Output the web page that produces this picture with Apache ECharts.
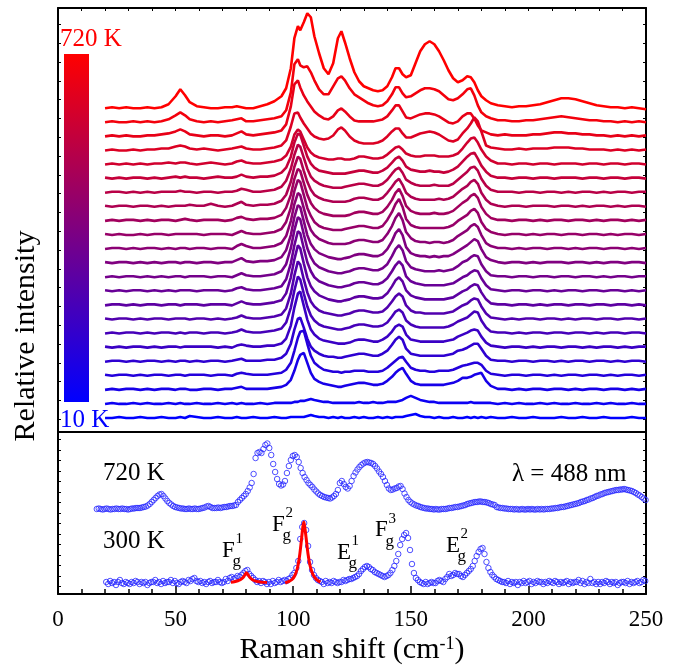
<!DOCTYPE html>
<html>
<head>
<meta charset="utf-8">
<script src="https://cdn.jsdelivr.net/npm/echarts@6/dist/echarts.min.js"></script>
<style>
  html, body { margin: 0; padding: 0; background: #fff; }
  #main { width: 684px; height: 671px; }
</style>
</head>
<body>
<div id="main"></div>
<script>
// Raman shift sampling (cm^-1) shared by the temperature stack
const shift = [20,23,26,29,32,35,38,41,44,47,50, 52,54,56, 59,62,65,68,71,74, 76,78,80, 83,86,89,92,95, 97,99,
  100.5,102,103,104.5,106,107.5,109, 111,113,115,117,119, 120.5,122, 124,126,128,130,132,134,136,138,140,142,
  143.5,145,146.5, 148,150,152,154,156,158,160,162,164,166,168,170,172, 174,175.5,177,178.5,180, 182,184,
  187,190,193,196,199,202,205,208,211,214,217,220,223,226,229,232,235,238,241,244,247,250];

// Intensities above each trace's own baseline (a.u.), 10 K (spec0) up to 720 K (spec22)
const spec0 = [0,0,1,0,0,1,0,0,1,0,0, 1,0,2, 1,0,0,1,0,0, 1,0,0, 1,0,0,1,0, 0,1, 1,1,1,1,2,3,2, 1,1,0,1,0, 1,0, 0,1,0,1,0,0,1,0,1,0, 1,1,1, 2,3,4,2,1,1,0,1,0,0,1,0,0, 1,0,1,0,1, 0,1, 0,0,1,0,0,1,0,0,0,1,0,0,1,0,0,1,0,0,0,1,0,0];
const spec1 = [0,1,0,0,1,0,1,0,0,1,0, 1,0,0, 1,0,0,1,0,1, 0,1,0, 0,1,0,1,1, 1,1, 2,2,3,3,4,5,4, 3,2,2,1,1, 1,1, 1,1,2,1,1,2,1,1,2,2, 2,3,4, 6,8,6,4,3,2,2,1,1,1,1,1,1, 1,2,1,1,1, 1,1, 0,1,0,1,0,0,1,0,1,0,0,1,0,0,1,0,1,0,0,1,0,0];
const spec2 = [0,1,0,1,1,0,1,0,1,1,0, 1,1,0, 0,1,1,0,1,1, 2,3,1, 1,1,1,2,3, 5,10, 19,30,35,37,27,17,11, 8,6,5,4,3, 3,4, 5,6,7,7,6,5,5,6,9,13, 17,20,22, 16,9,6,5,5,5,5,5,5,6,7,9,12, 12,13,15,16,17, 9,4, 1,1,0,1,0,1,1,0,1,1,0,1,0,1,1,0,1,1,0,1,0,1];
const spec3 = [1,0,1,1,0,1,0,1,1,0,1, 1,0,1, 1,1,0,1,1,0, 2,3,2, 1,1,1,2,3, 6,13, 25,38,44,45,32,20,13, 9,6,5,4,4, 3,4, 4,5,5,5,4,4,4,5,8,12, 15,18,19, 14,8,6,5,5,4,4,5,5,5,6,8,10, 11,12,13,13,11, 5,2, 1,0,1,1,0,1,1,0,1,0,1,1,0,1,1,0,1,0,1,1,0,1];
const spec4 = [0,1,1,0,1,0,1,1,0,1,0, 1,1,0, 1,0,1,1,0,1, 2,3,1, 1,1,2,2,4, 8,18, 32,43,44,34,23,15,11, 8,6,5,5,4, 4,5, 6,7,8,8,7,6,6,8,11,17, 22,25,22, 13,8,7,6,6,6,6,6,6,7,8,11,12, 14,16,18,18,13, 6,2, 1,1,0,1,1,0,1,1,0,1,0,1,1,0,1,1,0,1,0,1,1,0];
const spec5 = [1,0,1,0,1,1,0,1,0,1,1, 0,1,1, 1,1,1,0,1,0, 2,3,2, 1,1,2,2,4, 9,22, 40,54,56,42,28,18,13, 9,7,6,5,4, 4,4, 5,7,8,8,7,6,6,8,11,16, 21,23,21, 13,8,7,6,6,6,6,6,6,7,8,11,13, 15,17,18,17,11, 5,2, 1,0,1,1,0,1,0,1,1,0,1,1,0,1,0,1,1,0,1,0,1,1];
const spec6 = [0,1,0,1,1,0,1,0,1,1,0, 1,0,1, 1,0,1,1,0,1, 2,4,2, 1,1,2,3,5, 11,26, 43,57,54,40,27,18,13, 9,7,6,5,4, 4,5, 6,8,9,9,8,7,7,8,11,17, 22,24,21, 13,9,7,6,6,6,6,6,6,7,9,12,14, 16,19,22,21,13, 6,2, 1,1,0,1,0,1,1,0,1,1,0,1,1,0,1,0,1,1,0,1,1,0];
const spec7 = [1,0,1,1,0,1,0,1,1,0,1, 1,1,0, 1,1,0,1,0,1, 2,4,2, 1,1,2,3,5, 11,26, 44,58,55,40,27,18,13, 9,7,6,5,4, 4,5, 6,8,9,9,8,7,7,8,12,18, 23,26,23, 14,9,7,7,6,6,6,6,6,7,8,11,14, 16,19,21,20,13, 6,2, 1,0,1,0,1,1,0,1,1,0,1,0,1,1,0,1,1,0,1,1,0,1];
const spec8 = [0,1,1,0,1,0,1,1,0,1,1, 0,1,1, 1,0,1,1,1,0, 2,4,2, 1,1,2,3,5, 12,28, 46,60,57,42,28,19,14, 10,8,6,5,4, 4,5, 6,8,9,9,8,7,7,8,12,19, 25,28,24, 15,10,8,7,6,6,6,6,6,7,8,11,14, 16,19,21,20,13, 6,2, 1,1,0,1,1,0,1,0,1,1,0,1,1,0,1,1,0,1,1,0,1,0];
const spec9 = [1,0,1,0,1,1,0,1,0,1,0, 1,1,1, 0,1,1,1,0,1, 3,4,2, 1,1,2,3,5, 12,28, 46,60,58,43,29,20,14, 10,8,6,5,4, 4,5, 6,8,9,9,8,7,7,9,13,20, 26,30,26, 15,10,8,7,6,6,6,6,6,7,8,11,14, 16,19,21,20,13, 6,2, 1,0,1,1,0,1,1,0,1,0,1,1,0,1,1,0,1,1,0,1,0,1];
const spec10 = [0,1,0,1,1,0,1,0,1,0,1, 1,0,1, 1,1,0,1,1,0, 2,4,2, 1,1,2,3,6, 13,29, 47,60,58,43,29,20,14, 10,8,6,5,4, 4,5, 6,8,9,9,8,7,7,9,13,21, 28,32,27, 16,10,8,7,6,6,6,7,6,7,8,11,15, 17,20,22,21,13, 6,2, 1,1,0,1,1,0,1,1,0,1,1,0,1,1,0,1,0,1,1,0,1,1];
const spec11 = [1,0,1,1,0,1,0,1,0,1,1, 0,1,1, 0,1,1,0,1,1, 3,5,2, 1,2,2,3,6, 13,28, 46,58,56,42,28,19,14, 10,8,6,5,4, 4,5, 6,8,9,9,8,7,7,9,14,22, 30,34,28, 16,10,8,7,7,6,7,6,7,7,9,12,15, 18,21,24,22,14, 6,3, 1,0,1,1,0,1,0,1,1,1,0,1,1,0,1,0,1,1,0,1,1,0];
const spec12 = [0,1,1,0,1,0,1,1,0,1,0, 1,1,0, 1,1,0,1,1,0, 3,5,3, 1,1,2,3,6, 13,28, 45,56,54,41,28,19,14, 10,8,6,5,5, 5,5, 6,8,9,9,8,7,7,9,15,23, 31,36,29, 17,11,8,7,7,6,7,7,6,7,9,13,16, 19,23,25,22,14, 6,3, 1,1,0,1,0,1,1,0,1,1,0,1,0,1,1,0,1,1,0,1,0,1];
const spec13 = [1,0,1,0,0,1,0,1,1,0,1, 1,1,1, 1,0,1,1,1,0, 2,4,2, 1,1,2,3,6, 13,27, 44,55,53,40,27,19,13, 9,7,6,5,5, 5,6, 7,8,9,9,8,7,7,9,15,23, 31,36,28, 16,10,8,7,7,7,7,7,7,8,10,14,17, 20,24,26,22,13, 6,3, 1,0,1,1,0,1,0,1,1,0,1,1,0,1,1,0,1,0,1,1,0,1];
const spec14 = [0,1,0,1,1,0,1,0,1,1,0, 1,2,1, 0,1,1,1,0,1, 3,4,2, 1,2,2,3,6, 13,26, 42,52,50,38,26,18,13, 9,7,6,5,5, 5,5, 6,8,9,9,8,7,7,9,14,21, 28,32,25, 15,10,8,7,7,7,8,7,7,8,10,14,18, 21,25,27,23,14, 7,3, 1,1,0,1,1,0,1,0,1,1,0,1,1,0,1,0,1,1,0,1,0,1];
const spec15 = [1,0,1,1,0,1,1,0,1,0,1, 1,1,2, 1,1,3,1,0,1, 3,5,2, 1,2,2,3,6, 12,25, 40,50,48,36,25,17,12, 9,7,6,5,5, 5,5, 6,8,9,9,8,7,7,9,14,20, 25,28,22, 14,10,8,7,7,7,7,8,7,8,10,14,18, 21,25,27,23,14, 7,3, 1,0,1,1,0,1,1,1,0,1,1,0,1,0,1,1,0,1,0,1,1,0];
const spec16 = [0,1,1,0,1,0,1,0,1,1,1, 2,1,1, 0,1,1,0,1,1, 2,4,3, 1,1,2,3,6, 12,24, 38,48,46,35,24,16,12, 9,7,6,5,5, 5,6, 7,8,9,9,8,7,7,9,13,19, 23,25,20, 13,10,8,7,7,7,8,7,7,7,9,13,17, 21,25,26,22,14, 7,3, 1,1,1,0,1,1,0,1,1,0,1,0,1,1,0,1,0,1,1,0,1,1];
const spec17 = [1,0,1,0,1,1,0,1,0,1,2, 1,2,1, 1,0,1,2,1,1, 2,4,2, 1,2,2,3,6, 11,22, 36,45,44,33,22,15,11, 8,7,6,5,5, 5,5, 6,7,8,8,7,6,6,8,11,16, 20,22,18, 12,9,8,7,7,8,7,7,6,7,9,12,17, 22,25,26,20,13, 7,3, 1,1,0,1,1,0,1,1,0,1,1,1,0,1,1,0,1,1,0,1,1,0];
const spec18 = [0,1,0,1,0,1,0,1,1,2,1, 2,2,1, 0,1,2,1,0,1, 3,4,2, 1,1,2,3,5, 9,18, 30,35,33,25,17,12,9, 7,6,5,5,6, 6,5, 5,6,8,8,7,6,6,7,10,14, 17,18,15, 11,9,8,8,9,9,9,8,8,8,9,11,16, 22,26,27,22,15, 8,4, 1,1,0,1,1,0,1,1,0,1,1,1,0,1,1,0,1,1,0,1,1,0];
const spec19 = [0,1,0,0,1,0,1,1,2,2,4, 5,4,2, 1,2,1,0,1,2, 3,4,2, 1,1,2,3,5, 10,24, 37,38,33,27,22,17,14, 12,11,12,15,21, 23,20, 14,10,8,7,7,7,8,10,14,19, 22,22,17, 13,13,15,17,18,19,18,16,13,10,9,11,17, 22,27,33,29,19, 5,3, 2,1,1,2,1,2,2,2,3,3,3,2,2,1,1,1,0,1,0,1,0,1];
const spec20 = [0,1,0,1,0,0,1,1,2,3,5, 7,5,2, 1,0,1,1,0,1, 3,5,2, 1,2,3,4,6, 12,30, 52,56,49,41,35,30,25, 21,18,17,20,26, 28,25, 20,16,15,15,15,15,16,17,20,26, 31,31,25, 19,18,20,22,23,23,22,20,17,14,13,15,20, 23,23,18,11,6, 4,2, 1,2,1,1,1,2,2,3,4,4,3,3,2,2,1,1,0,1,0,1,0,1];
const spec21 = [0,1,0,0,1,0,1,0,1,3,7, 10,7,3, 1,0,1,0,1,2, 3,4,1, 1,2,3,4,6, 12,30, 58,63,57,55,56,50,42, 33,28,28,36,44, 46,42, 34,28,25,22,19,17,16,17,21,28, 35,35,29, 25,26,29,32,34,34,33,31,27,23,22,24,28, 33,34,27,17,10, 6,4, 2,2,1,1,2,2,3,4,5,6,5,4,3,2,2,1,1,0,1,0,1,0];
const spec22 = [0,1,0,1,0,0,1,0,1,4,12, 19,13,6, 2,1,0,0,1,1, 2,1,0, 0,2,4,7,12, 20,40, 70,82,78,86,95,91,72, 55,40,34,45,70, 77,66, 50,36,27,22,20,18,17,18,22,31, 40,40,34, 31,33,45,57,64,67,64,57,48,38,30,26,28, 32,31,26,18,12, 8,5, 3,2,1,2,2,3,4,6,8,10,10,9,7,5,3,2,1,1,0,1,0,-1];

const stackLabels = ['10 K', '720 K'];

// 488 nm spectra: first shift, point spacing (cm^-1), then intensities (a.u., offset included)
const hotStart = 16.5, coldStart = 20.5, spacing = 5 / 6;
const hot720 = [
  85,85.5,85,84.5,85,85.5,85,84.5,85,85,85.5,85,
  85,85.5,85,85,84.5,85,85.5,85.5,86,86,86,86.5,
  87,87.5,88.5,90,92,94,96,98,99.5,100,98,95.5,
  93,91,89.5,88,87,86.5,86,85.5,85.5,85,85,85.5,
  85,85,85.5,85,85,85.5,86,86.5,87.5,88,87,86,
  86,86,86.5,86,86.5,87,87,87.5,88,88,88.5,89,
  92,94,96,98,100,103,106.5,111,120,136,141,142,
  141,145,149,150.5,146,139,130,122,115,110,108.5,109.5,
  113,121,128,134,138,139,137,132,126,121,117,114,
  111,109,107,104.5,102.5,100.5,99,98,97,96.5,96,95.5,
  96.5,98,100,104,111,113,110,107,105.5,108,113,118,
  121.5,124.5,127,129,130.5,131.5,132,131.5,131,130,128,125.5,
  122.5,120,117,113,109,105.5,104,104.5,105.5,106,107.5,108,
  105,100.5,97,94,92,90.5,89.5,88.5,88,87,86.5,86,
  85.5,85.5,85,85,84.5,85,84.5,84.5,85,85,85,85.5,
  86,86,86.5,87,87,87.5,88,88.5,89,90,90.5,91,
  91.5,92,92,92.5,92.5,92,92,91.5,91,90,89.5,89,
  87,86.5,86,86,85.5,85.5,85,85,85,84.5,85,84.5,
  84.5,85,84.5,84.5,85,84.5,85,84.5,84.5,85,84.5,85,
  84.5,85,85,85,85.5,85.5,86,86,86.5,87,87,87.5,
  88,88.5,89,89.5,90,90.5,91,92,92.5,93,94,94.5,
  95.5,96,97,98,98.5,99.5,100,101,101.5,102,102.5,103,
  103.5,104,104,104.5,104.5,105,104.5,104,103.5,103,102,101,
  99.5,98.5,97,95.5,94];
const room300 = [
  12,10,13,11,12,9,12,14,11,10,12,11,
  10,12,11,13,12,10,12,11,12,9,11,12,
  12,14,11,12,10,13,11,12,12,14,11,13,
  11,10,12,13,12,11,14,13,15,16,13,12,
  13,11,12,10,12,13,11,12,12,14,12,11,
  12,15,13,16,17,15,16,18,17,19,21,23,
  24,20,18,16,14,12,13,11,13,12,10,12,
  10,13,11,12,14,12,13,14,13,15,16,19,
  21,26,33,55,67,71,64,48,32,24,19,16,
  14,13,12,10,13,11,12,11,13,12,11,12,
  12,14,13,14,15,15,16,17,18,20,23,25,
  27,28,27,25,24,22,21,20,19,18,17,18,
  19,21,24,28,33,40,49,55,59,61,56,44,
  30,21,16,14,12,11,10,12,10,11,12,11,
  11,13,14,13,12,15,17,20,18,19,21,20,
  20,18,17,19,21,23,25,28,33,38,42,45,
  46,40,32,26,22,19,17,15,14,13,12,12,
  11,13,10,12,11,12,9,12,11,13,11,12,
  13,10,12,11,13,12,12,10,12,11,13,12,
  11,13,12,10,12,11,12,13,10,12,11,12,
  12,14,11,13,10,12,11,15,11,12,10,12,
  10,12,11,13,12,10,12,11,12,9,11,12,
  12,11,13,10,12,11,12,13,11,12,14,13];

// Lorentzian fits of the two lowest 300 K modes
const fitF1 = [[73.5,11.8],[75,12.3],[76.5,13.2],[77.5,14.2],[78.5,16],[79.3,18.5],[80.1,21.3],[80.9,18.8],[81.7,16.3],[82.7,14.3],[84,12.9],[85.5,12.2],[87,11.8],[88.9,11.4]];
const fitF2 = [[96.6,11],[98,12.3],[99.5,14.5],[100.7,18.5],[101.8,26],[102.7,38],[103.5,54],[104.1,67],[104.5,72],[104.9,67],[105.5,56],[106.3,40],[107.2,28],[108.3,20],[109.5,15.5],[110.6,13.2],[111.6,12]];

const xTicks = [0, 50, 100, 150, 200, 250];

const stack = [spec0,spec1,spec2,spec3,spec4,spec5,spec6,spec7,spec8,spec9,spec10,spec11,
  spec12,spec13,spec14,spec15,spec16,spec17,spec18,spec19,spec20,spec21,spec22];
stack.forEach((s, i) => {
  if (s.length !== shift.length) throw new Error('spec' + i + ' has ' + s.length + ' points');
});

const serif = 'Liberation Serif';
const BASE = 1.3, GAP = 14.08;      // vertical stacking of the temperature traces
const TOP_MIN = -12.7, TOP_MAX = 411.3;

const topTicks = [];
for (let v = 0; v <= TOP_MAX; v += 18.8) topTicks.push(+v.toFixed(2));
const botTicks = [];
for (let v = 7.3; v <= 162; v += 10.5) botTicks.push(+v.toFixed(2));

function traceColor(i) {
  const t = i / (stack.length - 1);
  return 'rgb(' + Math.round(255 * t) + ',0,' + Math.round(255 * (1 - t)) + ')';
}

const series = [];
for (let i = stack.length - 1; i >= 0; i--) {
  series.push({
    type: 'line', xAxisIndex: 0, yAxisIndex: 0,
    showSymbol: false, symbol: 'none', silent: true,
    lineStyle: { color: traceColor(i), width: 2.6 },
    data: shift.map((x, k) => [x, BASE + GAP * i + stack[i][k]]),
    z: 2
  });
}
const openCircle = {
  type: 'scatter', xAxisIndex: 2, yAxisIndex: 2, symbol: 'circle', symbolSize: 5.5, silent: true,
  itemStyle: { color: 'rgba(0,0,0,0)', borderColor: '#2626ff', borderWidth: 1 }, z: 3
};
series.push(Object.assign({}, openCircle, { data: hot720.map((v, k) => [hotStart + spacing * k, v]) }));
series.push(Object.assign({}, openCircle, { data: room300.map((v, k) => [coldStart + spacing * k, v]) }));
[fitF1, fitF2].forEach(d => series.push({
  type: 'line', xAxisIndex: 2, yAxisIndex: 2, showSymbol: false, symbol: 'none', silent: true,
  smooth: 0.3, lineStyle: { color: '#ff0000', width: 3 }, data: d, z: 5
}));

const frame = { show: true, onZero: false, lineStyle: { color: '#000', width: 2 } };
const noLabel = { show: false };
const noSplit = { show: false };

function xAx(grid, pos, extra) {
  return Object.assign({
    gridIndex: grid, type: 'value', min: 0, max: 250, position: pos,
    axisLine: frame, axisTick: { show: false }, axisLabel: noLabel, splitLine: noSplit
  }, extra || {});
}
function yAx(grid, pos, min, max, ticks) {
  return {
    gridIndex: grid, type: 'value', min: min, max: max, position: pos,
    axisLine: frame,
    axisTick: { show: true, inside: true, length: 3, customValues: ticks, lineStyle: { color: '#000', width: 1 } },
    axisLabel: noLabel, splitLine: noSplit
  };
}

const option = {
  animation: false,
  backgroundColor: '#fff',
  grid: [
    { left: 58, top: 8, width: 588, height: 424, containLabel: false, outerBoundsMode: 'none' },
    { left: 58, top: 432, width: 588, height: 162, containLabel: false, outerBoundsMode: 'none' }
  ],
  xAxis: [
    xAx(0, 'bottom'),
    xAx(0, 'top', { interval: 10, axisTick: { show: true, inside: true, length: 3, lineStyle: { color: '#000', width: 1 } } }),
    xAx(1, 'bottom', {
      interval: 50,
      axisTick: { show: true, inside: true, length: 8, customValues: xTicks, lineStyle: { color: '#000', width: 1.5 } },
      minorTick: { show: true, splitNumber: 5, length: 5, lineStyle: { color: '#000', width: 1.5 } },
      axisLabel: { show: true, margin: 14, fontSize: 23, fontFamily: serif, color: '#000' },
      name: '{n|Raman shift (cm}{s|-1}{n|)}',
      nameLocation: 'middle', nameGap: 41,
      nameTextStyle: {
        fontFamily: serif, fontSize: 30, color: '#000',
        rich: {
          n: { fontFamily: serif, fontSize: 30, color: '#000' },
          s: { fontFamily: serif, fontSize: 18, color: '#000', verticalAlign: 'top' }
        }
      }
    }),
    xAx(1, 'top')
  ],
  yAxis: [
    yAx(0, 'left', TOP_MIN, TOP_MAX, topTicks),
    yAx(0, 'right', TOP_MIN, TOP_MAX, topTicks),
    yAx(1, 'left', 0, 162, botTicks),
    yAx(1, 'right', 0, 162, botTicks)
  ],
  series: series
};

function txt(x, y, text, size, color, extra) {
  return Object.assign({
    type: 'text', x: x, y: y, silent: true, z: 10,
    style: { text: text, font: size + 'px "' + serif + '"', fill: color, textAlign: 'left', textVerticalAlign: 'middle', align: 'left', verticalAlign: 'middle' }
  }, extra || {});
}
// mode label: letter with superscript index and subscript g
function mode(x, y, letter, idx) {
  const w = letter === 'E' ? 14.5 : 13.5;
  return [
    txt(x, y, letter, 23, '#000'),
    txt(x + w, y - 11, idx, 15, '#000'),
    txt(x + w - 3, y + 11.5, 'g', 17, '#000')
  ];
}

const graphics = [
  {
    type: 'rect', silent: true, z: 1,
    shape: { x: 64, y: 54, width: 25, height: 348 },
    style: { fill: new echarts.graphic.LinearGradient(0, 0, 0, 1, [
      { offset: 0, color: 'rgb(255,0,0)' }, { offset: 1, color: 'rgb(0,0,255)' }]) }
  },
  txt(60, 39, stackLabels[1], 25, '#ff0000'),
  txt(60, 420, stackLabels[0], 25, '#0000ff'),
  txt(26, 336, 'Relative intensity', 30, '#000', { rotation: Math.PI / 2 }),
  txt(103, 473, '720 K', 25, '#000'),
  txt(103, 541, '300 K', 25, '#000'),
  txt(512, 474, 'λ = 488 nm', 25, '#000')
].concat(
  mode(222, 550.5, 'F', '1'),
  mode(272, 524.5, 'F', '2'),
  mode(337, 552.5, 'E', '1'),
  mode(375, 530, 'F', '3'),
  mode(446, 545.5, 'E', '2')
);
graphics[3].style.textAlign = 'center';
graphics[3].style.align = 'center';
option.graphic = { elements: graphics };

const chart = echarts.init(document.getElementById('main'), null, { renderer: 'canvas' });
chart.setOption(option);
</script>
</body>
</html>
